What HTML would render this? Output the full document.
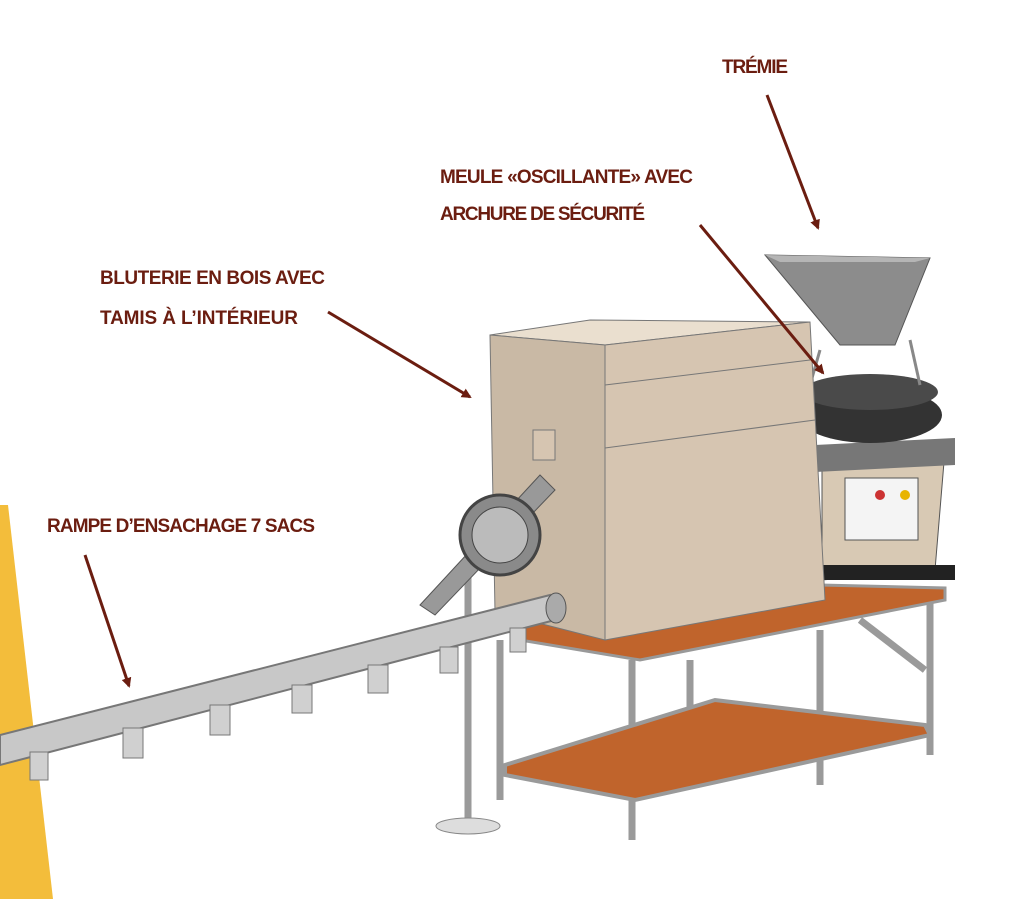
<!DOCTYPE html>
<html><head><meta charset="utf-8"><style>
html,body{margin:0;padding:0;background:#fff;}
svg{display:block}
text{font-family:"Liberation Sans",sans-serif;font-weight:bold;fill:#6b1d10;font-size:19px;}
</style></head><body>
<svg width="1011" height="899" viewBox="0 0 1011 899" xmlns="http://www.w3.org/2000/svg">
<defs>
<marker id="ah" markerWidth="10" markerHeight="10" refX="8" refY="5" orient="auto" markerUnits="userSpaceOnUse">
<path d="M0,0 L10,5 L0,10 z" fill="#6b1d10"/></marker>
</defs>
<!-- yellow band -->
<polygon points="0,505 8,505 53,899 0,899" fill="#f3bd3b"/>

<!-- labels -->
<text x="722" y="73" textLength="66">TRÉMIE</text>
<text x="440" y="183" textLength="253">MEULE «OSCILLANTE» AVEC</text>
<text x="440" y="220" textLength="205">ARCHURE DE SÉCURITÉ</text>
<text x="100" y="284" textLength="225">BLUTERIE EN BOIS AVEC</text>
<text x="100" y="324" textLength="198">TAMIS À L’INTÉRIEUR</text>
<text x="47" y="532" textLength="268">RAMPE D’ENSACHAGE 7 SACS</text>

<!-- lower shelf & legs -->
<g stroke="#9a9a9a" stroke-width="7" fill="none">
<line x1="500" y1="640" x2="500" y2="800"/>
<line x1="632" y1="660" x2="632" y2="840"/>
<line x1="820" y1="630" x2="820" y2="785"/>
<line x1="930" y1="595" x2="930" y2="755"/>
<line x1="690" y1="660" x2="690" y2="710"/>
<line x1="468" y1="570" x2="468" y2="820"/>
<line x1="860" y1="620" x2="925" y2="670"/>
</g>
<polygon points="505,765 715,700 925,725 930,735 635,800 505,775" fill="#c0642c" stroke="#9a9a9a" stroke-width="4"/>
<ellipse cx="468" cy="826" rx="32" ry="8" fill="#ddd" stroke="#888"/>

<!-- table top -->
<polygon points="520,625 820,585 945,588 945,600 640,660 520,640" fill="#c0642c" stroke="#999" stroke-width="3"/>

<!-- control cabinet -->
<polygon points="822,460 945,450 935,570 822,580" fill="#d8c9b4" stroke="#555"/>
<rect x="845" y="478" width="73" height="62" fill="#f4f4f4" stroke="#555"/>
<circle cx="880" cy="495" r="5" fill="#c33"/><circle cx="905" cy="495" r="5" fill="#e8b400"/>
<rect x="815" y="565" width="140" height="15" fill="#222"/>

<!-- stone ring -->
<polygon points="815,445 955,438 955,465 815,472" fill="#777"/>
<!-- millstone -->
<ellipse cx="870" cy="415" rx="72" ry="28" fill="#333"/>
<ellipse cx="870" cy="392" rx="68" ry="18" fill="#4a4a4a"/>
<!-- hopper -->
<polygon points="765,255 930,258 895,345 840,345" fill="#8c8c8c" stroke="#555"/>
<polygon points="765,255 930,258 915,262 780,262" fill="#b5b5b5"/>
<g stroke="#888" stroke-width="3"><line x1="820" y1="350" x2="810" y2="385"/><line x1="910" y1="340" x2="920" y2="385"/></g>

<!-- wooden box -->
<polygon points="490,335 590,320 810,322 605,345" fill="#eadfcf" stroke="#777"/>
<polygon points="490,335 605,345 605,640 495,612" fill="#c9b9a5" stroke="#777"/>
<polygon points="605,345 810,322 825,600 605,640" fill="#d6c5b1" stroke="#777"/>
<line x1="605" y1="448" x2="815" y2="420" stroke="#777"/>
<line x1="605" y1="385" x2="810" y2="360" stroke="#777"/>
<rect x="533" y="430" width="22" height="30" fill="#d6c5b1" stroke="#777"/>

<!-- pulley / belt -->
<polygon points="420,605 540,475 555,490 435,615" fill="#999" stroke="#555"/>
<circle cx="500" cy="535" r="40" fill="#8a8a8a" stroke="#444" stroke-width="3"/>
<circle cx="500" cy="535" r="28" fill="#bbb" stroke="#444"/>

<!-- pipe -->
<polygon points="0,735 550,595 555,620 0,765" fill="#c8c8c8" stroke="#777" stroke-width="2"/>
<ellipse cx="556" cy="608" rx="10" ry="15" fill="#aaa" stroke="#555"/>
<g fill="#d0d0d0" stroke="#777">
<rect x="30" y="752" width="18" height="28"/>
<rect x="123" y="728" width="20" height="30"/>
<rect x="210" y="705" width="20" height="30"/>
<rect x="292" y="685" width="20" height="28"/>
<rect x="368" y="665" width="20" height="28"/>
<rect x="440" y="647" width="18" height="26"/>
<rect x="510" y="628" width="16" height="24"/>
</g>

<!-- arrows -->
<g stroke="#6b1d10" stroke-width="3" marker-end="url(#ah)">
<line x1="767" y1="95" x2="818" y2="228"/>
<line x1="700" y1="225" x2="823" y2="373"/>
<line x1="328" y1="312" x2="470" y2="397"/>
<line x1="85" y1="555" x2="129" y2="686"/>
</g>
</svg>
</body></html>
